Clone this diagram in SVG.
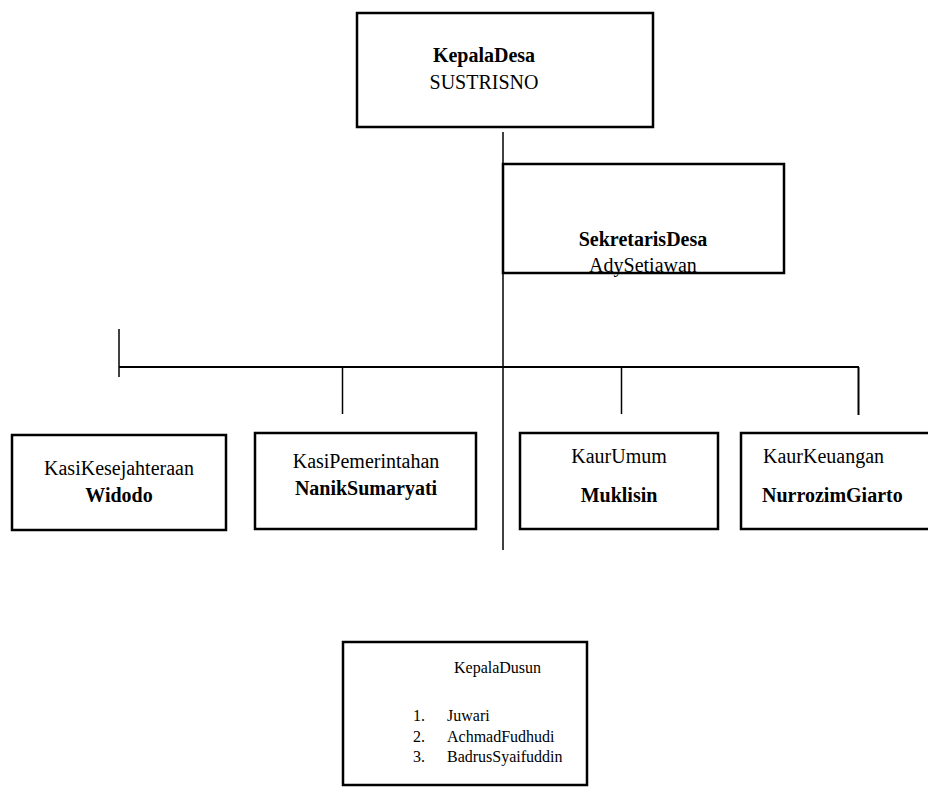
<svg xmlns="http://www.w3.org/2000/svg" width="928" height="805" viewBox="0 0 928 805">
<style>
.box{fill:#fff;stroke:#000;stroke-width:2.5}
.ln{stroke:#000;stroke-width:1.5;fill:none}
text{font-family:"Liberation Serif","Times New Roman",serif;font-size:20px;fill:#000}
.b{font-weight:bold}
.c{text-anchor:middle}
.s{font-size:16px}
</style>
<rect width="928" height="805" fill="#fff"/>
<g id="connectors">
<line class="ln" x1="503" y1="132" x2="503" y2="550"/>
<line class="ln" x1="119" y1="329" x2="119" y2="377"/>
<line class="ln" x1="119" y1="367" x2="859" y2="367" style="stroke-width:2"/>
<line class="ln" x1="342.5" y1="367" x2="342.5" y2="414"/>
<line class="ln" x1="621.5" y1="367" x2="621.5" y2="414"/>
<line class="ln" x1="858.5" y1="367" x2="858.5" y2="415" style="stroke-width:2"/>
</g>
<g id="kepala-desa">
<rect class="box" x="357" y="13" width="296" height="114"/>
<text class="c b" x="484" y="62">KepalaDesa</text>
<text class="c" x="484" y="89">SUSTRISNO</text>
</g>
<g id="sekretaris-desa">
<rect class="box" x="503" y="164" width="281" height="109"/>
<text class="c b" x="643" y="246">SekretarisDesa</text>
<text class="c" x="643" y="272">AdySetiawan</text>
</g>
<g id="kasi-kesejahteraan">
<rect class="box" x="12" y="435" width="214" height="95"/>
<text class="c" x="119" y="475">KasiKesejahteraan</text>
<text class="c b" x="119" y="502">Widodo</text>
</g>
<g id="kasi-pemerintahan">
<rect class="box" x="255" y="433" width="221" height="96"/>
<text class="c" x="366" y="468">KasiPemerintahan</text>
<text class="c b" x="366" y="495">NanikSumaryati</text>
</g>
<g id="kaur-umum">
<rect class="box" x="520" y="433" width="198" height="96"/>
<text class="c" x="619" y="463">KaurUmum</text>
<text class="c b" x="619" y="502">Muklisin</text>
</g>
<g id="kaur-keuangan">
<rect class="box" x="741" y="433" width="195" height="96"/>
<text x="763" y="463">KaurKeuangan</text>
<text class="b" x="762" y="502">NurrozimGiarto</text>
</g>
<g id="kepala-dusun">
<rect class="box" x="343" y="642" width="244" height="143"/>
<text class="s" x="454" y="673">KepalaDusun</text>
<text class="s" x="413" y="721">1.</text>
<text class="s" x="447" y="721">Juwari</text>
<text class="s" x="413" y="742">2.</text>
<text class="s" x="447" y="742">AchmadFudhudi</text>
<text class="s" x="413" y="762">3.</text>
<text class="s" x="447" y="762">BadrusSyaifuddin</text>
</g>
</svg>
